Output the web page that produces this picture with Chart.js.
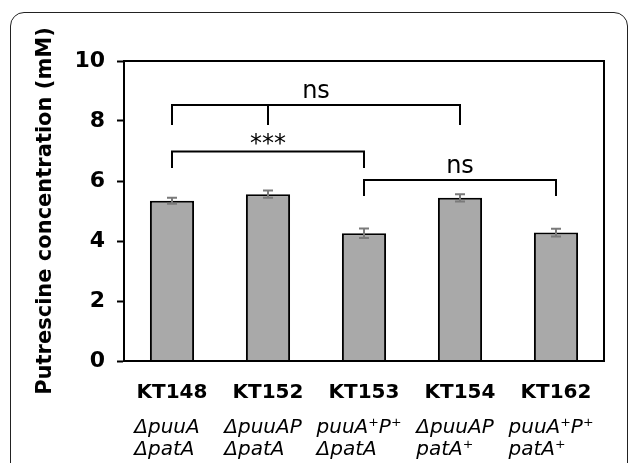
<!DOCTYPE html>
<html>
<head>
<meta charset="utf-8">
<script src="https://cdn.jsdelivr.net/npm/chart.js@4"></script>
<style>
    html, body { margin: 0; padding: 0; background: #fff; overflow: hidden; }
    #frame {
        position: absolute; left: 10px; top: 12px;
        width: 616px; height: 520px;
        border: 1.5px solid #222; border-radius: 14px;
    }
    #chart { position: absolute; left: 0; top: 0; }
</style>
</head>
<body>
<div id="frame"></div>
<canvas id="chart" width="629" height="463"></canvas>
<script>
const strains = ['KT148', 'KT152', 'KT153', 'KT154', 'KT162'];
const genotypes = [
    ['ΔpuuA', 'ΔpatA'],
    ['ΔpuuAP', 'ΔpatA'],
    ['puuA⁺P⁺', 'ΔpatA'],
    ['ΔpuuAP', 'patA⁺'],
    ['puuA⁺P⁺', 'patA⁺'],
];
const putrescine = [5.34, 5.56, 4.26, 5.44, 4.28];
const errors = [0.10, 0.12, 0.16, 0.12, 0.13];

// significance brackets
const bracketFrom = [0, 0, 2];
const bracketTo = [3, 2, 4];
const bracketMid = [1, null, null];
const bracketTop = [8.53, 6.98, 6.03];
const bracketLeg = [7.87, 6.43, 5.5];
const bracketLabels = ['ns', '***', 'ns'];

const yMin = 0, yMax = 10, yStep = 2;
const yTitle = 'Putrescine concentration (mM)';

const FONT = '"DejaVu Sans", sans-serif';

const annotations = {
    id: 'annotations',
    afterDatasetsDraw(chart) {
        const { ctx, chartArea, scales: { x, y } } = chart;
        ctx.save();

        // frame around the plot
        ctx.strokeStyle = '#000';
        ctx.lineWidth = 2;
        ctx.strokeRect(chartArea.left, chartArea.top, chartArea.right - chartArea.left, chartArea.bottom - chartArea.top);

        // error bars
        ctx.strokeStyle = '#7a7a7a';
        ctx.lineWidth = 2;
        chart.getDatasetMeta(0).data.forEach((bar, i) => {
            const hi = y.getPixelForValue(putrescine[i] + errors[i]);
            const lo = y.getPixelForValue(putrescine[i] - errors[i]);
            ctx.beginPath();
            ctx.moveTo(bar.x, hi); ctx.lineTo(bar.x, lo);
            ctx.moveTo(bar.x - 5, hi); ctx.lineTo(bar.x + 5, hi);
            ctx.moveTo(bar.x - 5, lo); ctx.lineTo(bar.x + 5, lo);
            ctx.stroke();
        });

        // brackets
        ctx.strokeStyle = '#000';
        ctx.fillStyle = '#000';
        ctx.lineWidth = 2;
        ctx.textAlign = 'center';
        ctx.textBaseline = 'alphabetic';
        bracketLabels.forEach((label, i) => {
            const x1 = x.getPixelForValue(bracketFrom[i]);
            const x2 = x.getPixelForValue(bracketTo[i]);
            const top = y.getPixelForValue(bracketTop[i]);
            const leg = y.getPixelForValue(bracketLeg[i]);
            ctx.beginPath();
            ctx.moveTo(x1, leg); ctx.lineTo(x1, top); ctx.lineTo(x2, top); ctx.lineTo(x2, leg);
            if (bracketMid[i] !== null) {
                const xm = x.getPixelForValue(bracketMid[i]);
                ctx.moveTo(xm, top); ctx.lineTo(xm, leg);
            }
            ctx.stroke();

            if (label === '***') {
                ctx.font = `24px ${FONT}`;
                ctx.fillText(label, (x1 + x2) / 2, top - 1);
            } else {
                ctx.font = `24px ${FONT}`;
                ctx.fillText(label, (x1 + x2) / 2, top - 7);
            }
        });

        // genotype lines under the strain names, left aligned per column
        ctx.font = `italic 20px ${FONT}`;
        ctx.textAlign = 'left';
        genotypes.forEach((lines, i) => {
            const width = Math.max(...lines.map((line) => ctx.measureText(line).width));
            const left = x.getPixelForValue(i) - width / 2 - 5;
            lines.forEach((line, j) => {
                ctx.fillText(line, left, x.bottom + 32 + j * 22);
            });
        });
        ctx.restore();
    }
};

function main() {
    Chart.defaults.color = '#000';
    Chart.defaults.font.family = FONT;

    const chartElement = document.querySelector('#chart');

    new Chart(chartElement, {
        type: 'bar',
        data: {
            labels: strains,
            datasets: [{
                data: putrescine,
                backgroundColor: '#a9a9a9',
                borderColor: '#000',
                borderWidth: 2,
                barPercentage: 0.46,
                categoryPercentage: 1,
            }]
        },
        options: {
            responsive: false,
            animation: false,
            layout: { padding: { left: 0, top: 61, right: 25, bottom: 62 } },
            plugins: { legend: { display: false }, tooltip: { enabled: false } },
            scales: {
                x: {
                    grid: { display: false },
                    border: { display: true, color: '#000', width: 2 },
                    ticks: { padding: 12, font: { size: 20, weight: 'bold' } },
                    afterFit: (scale) => { scale.height = 40; },
                },
                y: {
                    min: yMin,
                    max: yMax,
                    grid: { drawOnChartArea: false, drawTicks: true, tickLength: 7, tickWidth: 2, tickColor: '#000' },
                    border: { display: true, color: '#000', width: 2 },
                    ticks: { stepSize: yStep, padding: 12, font: { size: 22, weight: 'bold' } },
                    title: {
                        display: true,
                        text: yTitle,
                        padding: { top: 33, bottom: 0 },
                        font: { size: 21, weight: 'bold' },
                    },
                    afterFit: (scale) => { scale.width = 124; },
                }
            }
        },
        plugins: [annotations]
    });
}

document.addEventListener('DOMContentLoaded', main);
</script>
</body>
</html>
